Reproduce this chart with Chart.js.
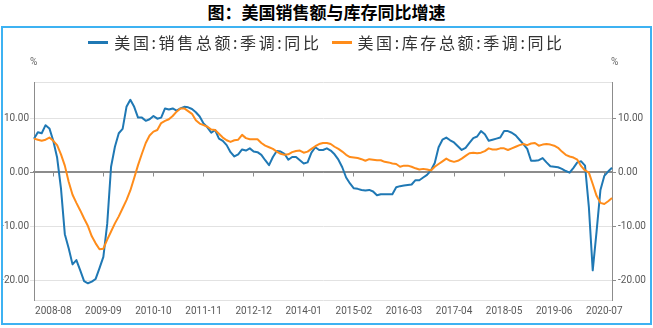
<!DOCTYPE html>
<html lang="zh-CN">
<head>
<meta charset="utf-8">
<script src="https://cdn.jsdelivr.net/npm/chart.js@4.4.1/dist/chart.umd.min.js"></script>
<style>
  html, body { margin: 0; padding: 0; background: #fff; }
  body { width: 653px; height: 328px; position: relative; overflow: hidden; }
  #titulo { position: absolute; left: 0; top: 1px; width: 653px; text-align: center;
            font: bold 17px "Noto Sans CJK SC"; color: #000; line-height: 22px; }
  #caixa { position: absolute; left: 1px; top: 26px; width: 647px; height: 295px;
           border: 2px solid #3db2f2; }
  #grafico { position: absolute; left: 0; top: 0; }
  #legenda { position: absolute; top: 4px; left: 0; width: 100%; display: flex;
             justify-content: center; gap: 10px; font: 16px "Noto Sans CJK SC";
             letter-spacing: 2.6px; color: #333; line-height: 20px; }
  .item { display: flex; align-items: center; }
  .traco { display: inline-block; width: 20px; height: 3px; margin-right: 6px; }
  .pct { position: absolute; top: 28px; font: 10px Roboto; color: #666; }
</style>
</head>
<body>
<div id="titulo">图：美国销售额与库存同比增速</div>
<div id="caixa">
  <canvas id="grafico" width="647" height="295"></canvas>
  <div id="legenda">
    <span class="item"><span class="traco" style="background:#1f78b4"></span>美国:销售总额:季调:同比</span>
    <span class="item"><span class="traco" style="background:#ff8c1a"></span>美国:库存总额:季调:同比</span>
  </div>
  <span class="pct" style="left:27px">%</span>
  <span class="pct" style="left:608px">%</span>
</div>
<script>
// meses de 2008-03 a 2020-09
const inicioAno = 2008, inicioMes = 3, totalMeses = 151;
const meses = [];
for (let i = 0; i < totalMeses; i++) {
  const m = inicioMes - 1 + i;
  meses.push((inicioAno + Math.floor(m / 12)) + '-' + String(m % 12 + 1).padStart(2, '0'));
}

// 美国:销售总额:季调:同比 (%)
const vendas = [
  6.2, 7.4, 7.2, 8.7, 8.1, 5.8, 2.7, -3.0, -11.5, -14.1,
  -17.1, -16.3, -18.2, -20.2, -20.6, -20.3, -19.8, -17.8, -15.7, -9.6,
  1.0, 4.7, 7.2, 8.0, 12.1, 13.4, 12.1, 10.1, 10.1, 9.5,
  9.8, 10.4, 9.9, 10.1, 11.8, 11.6, 11.8, 11.4, 11.8, 12.1,
  12.0, 11.7, 11.1, 10.3, 9.0, 8.3, 7.3, 7.8, 6.2, 5.8,
  5.0, 3.7, 2.9, 3.3, 4.2, 4.0, 4.4, 3.8, 3.7, 3.2,
  2.2, 1.3, 2.8, 3.9, 3.8, 3.4, 2.3, 2.8, 2.8, 2.2,
  1.6, 1.8, 3.6, 4.6, 4.1, 4.1, 4.4, 4.0, 3.3, 2.3,
  0.9, -1.0, -2.1, -3.0, -3.1, -3.3, -3.4, -3.3, -3.6, -4.3,
  -4.1, -4.1, -4.1, -4.1, -2.8, -2.6, -2.5, -2.4, -2.3, -1.5,
  -1.5, -1.0, -0.5, 0.3, 1.7, 4.6, 6.0, 6.4, 5.9, 5.5,
  4.8, 4.1, 4.5, 5.4, 6.3, 6.6, 7.6, 7.0, 5.8, 6.0,
  6.2, 6.4, 7.6, 7.6, 7.3, 6.8, 6.0, 5.2, 4.3, 2.1,
  2.1, 2.2, 2.6, 1.8, 1.1, 1.0, 0.9, 0.6, 0.2, -0.1,
  0.8, 1.8, 2.0, 1.2, -6.5, -18.2, -11.0, -3.3, -0.7, 0.1,
  0.8
];

// 美国:库存总额:季调:同比 (%)
const estoques = [
  6.2, 6.0, 5.8, 6.0, 6.4, 5.8, 5.0, 3.3, 1.2, -1.8,
  -4.2, -5.7, -7.1, -8.6, -10.0, -11.9, -13.2, -14.3, -14.2, -12.5,
  -11.0, -9.5, -8.2, -6.7, -5.2, -3.4, -1.1, 1.3, 3.4, 5.4,
  6.8, 7.5, 7.8, 9.1, 9.5, 9.8, 10.4, 11.2, 11.8, 11.8,
  11.3, 10.8, 9.6, 9.0, 8.7, 8.4, 7.9, 7.8, 7.1, 6.4,
  5.9, 5.6, 5.9, 6.0, 6.9, 6.3, 6.1, 6.1, 6.1, 5.4,
  4.9, 4.6, 4.3, 3.8, 3.4, 3.2, 3.3, 3.7, 3.9, 4.0,
  3.6, 3.8, 4.3, 4.8, 5.2, 5.4, 5.4, 5.2, 4.7, 4.3,
  3.8, 3.2, 2.8, 2.7, 2.6, 2.4, 2.1, 2.4, 2.3, 2.2,
  2.2, 1.9, 1.8, 1.6, 1.5, 1.0, 1.2, 1.2, 1.0, 0.7,
  0.5, 0.6, 0.5, 0.3, 1.0, 1.5, 2.0, 2.5, 2.1, 1.9,
  2.1, 2.5, 3.0, 3.5, 3.6, 3.5, 3.6, 3.9, 4.4, 4.2,
  4.2, 4.4, 4.4, 4.1, 4.4, 4.7, 5.0, 5.2, 5.0, 5.3,
  5.4, 4.9, 5.1, 5.2, 5.1, 4.9, 4.5, 3.8, 3.2, 2.9,
  2.7, 2.3, 1.1, 0.3, -0.1, -2.2, -4.4, -5.7, -5.9, -5.4,
  -4.8
];

// eixo y: faixa e marcas com rótulo
const yMin = -23.7, yMax = 16.7;
const yMarcas = [-20, -10, 0, 10];

// rótulos do eixo x a cada 13 meses, começando em 2008-08
const primeiroRotulo = 5, passoRotulo = 13;

const cinzaTexto = '#595959';
const cinzaGrade = '#e2e2e2';
const cinzaEixo = '#8c8c8c';

function marcasY(scale) {
  scale.ticks = [yMin, ...yMarcas, yMax].map(v => ({ value: v }));
}

function rotuloY(v) {
  return yMarcas.includes(v) ? v.toFixed(2) : '';
}

function marcasX(scale) {
  scale.ticks = scale.ticks.filter(t => t.value >= primeiroRotulo && (t.value - primeiroRotulo) % passoRotulo === 0);
}

Chart.defaults.font.family = 'Roboto';

new Chart(document.getElementById('grafico').getContext('2d'), {
  type: 'line',
  data: {
    labels: meses,
    datasets: [
      { label: '美国:销售总额:季调:同比', data: vendas, borderColor: '#1f78b4', order: 1 },
      { label: '美国:库存总额:季调:同比', data: estoques, borderColor: '#ff8c1a', order: 0 }
    ]
  },
  options: {
    responsive: false,
    animation: false,
    layout: { padding: { top: 54, left: 0, right: 0, bottom: 0 } },
    elements: {
      point: { radius: 0 },
      line: { borderWidth: 2, tension: 0, borderJoinStyle: 'round' }
    },
    plugins: { legend: { display: false }, tooltip: { enabled: false } },
    scales: {
      x: {
        type: 'category',
        position: 'bottom',
        grid: { display: false, drawTicks: false },
        border: { display: false },
        ticks: { autoSkip: false, maxRotation: 0, padding: 5, color: cinzaTexto, font: { size: 10 } },
        afterBuildTicks: marcasX,
        afterFit: s => { s.height = 23; }
      },
      eixoZero: {
        type: 'category',
        axis: 'x',
        position: { y: 0 },
        ticks: { display: false },
        grid: { drawOnChartArea: false, drawTicks: true, tickLength: 4, color: cinzaEixo },
        border: { color: cinzaEixo, width: 1.5 },
        afterBuildTicks: marcasX
      },
      y: {
        position: 'left',
        min: yMin,
        max: yMax,
        afterBuildTicks: marcasY,
        ticks: { callback: rotuloY, padding: 1, color: cinzaTexto, font: { size: 10 } },
        grid: {
          tickLength: 4,
          color: ctx => ctx.tick && ctx.tick.value === 0 ? cinzaEixo : cinzaGrade,
          tickColor: ctx => ctx.tick && yMarcas.includes(ctx.tick.value) ? (ctx.tick.value === 0 ? cinzaEixo : cinzaGrade) : 'rgba(0,0,0,0)'
        },
        border: { color: cinzaEixo, width: 1 },
        afterFit: s => { s.width = 31; }
      },
      y2: {
        position: 'right',
        min: yMin,
        max: yMax,
        afterBuildTicks: marcasY,
        ticks: { callback: rotuloY, padding: 2, color: cinzaTexto, font: { size: 10 } },
        grid: {
          drawOnChartArea: false,
          tickLength: 4,
          tickColor: ctx => ctx.tick && yMarcas.includes(ctx.tick.value) ? cinzaEixo : 'rgba(0,0,0,0)'
        },
        border: { color: cinzaEixo, width: 1 },
        afterFit: s => { s.width = 38; }
      }
    }
  }
});
</script>
</body>
</html>
